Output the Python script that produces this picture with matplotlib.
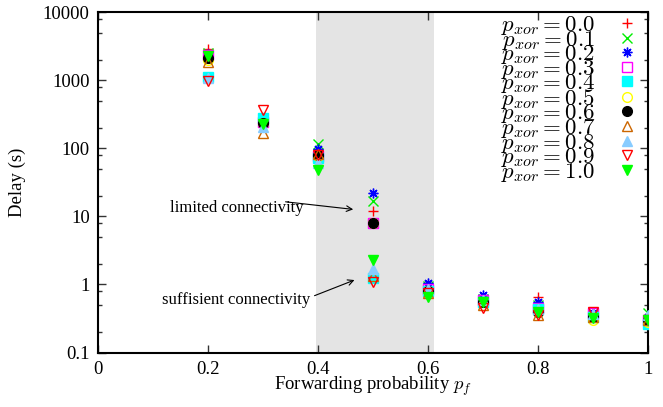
import matplotlib
matplotlib.use('Agg')
import matplotlib.pyplot as plt
from matplotlib.ticker import LogLocator, FixedLocator, NullFormatter

plt.rcParams['font.family'] = ['Liberation Serif', 'DejaVu Serif']
plt.rcParams['mathtext.fontset'] = 'cm'

pf = [0.2, 0.3, 0.4, 0.5, 0.6, 0.7, 0.8, 0.9, 1.0]
pxor = ['0.0', '0.1', '0.2', '0.3', '0.4', '0.5', '0.6', '0.7', '0.8', '0.9', '1.0']

# delay (s) per p_xor, one value per forwarding probability
d00 = [2900, 245, 86, 12.0, 0.90, 0.60, 0.65, 0.38, 0.32]
d01 = [2500, 240, 116, 17.0, 0.95, 0.62, 0.50, 0.36, 0.38]
d02 = [2400, 240, 97, 22.0, 1.05, 0.70, 0.55, 0.38, 0.33]
d03 = [2300, 245, 78, 8.0, 0.85, 0.60, 0.45, 0.38, 0.30]
d04 = [1120, 275, 72, 1.25, 0.80, 0.55, 0.43, 0.33, 0.26]
d05 = [2000, 235, 76, 8.0, 0.80, 0.55, 0.40, 0.30, 0.28]
d06 = [2130, 235, 80, 8.0, 0.80, 0.55, 0.40, 0.33, 0.30]
d07 = [1850, 168, 82, 1.35, 0.75, 0.50, 0.35, 0.33, 0.30]
d08 = [1070, 205, 61, 1.70, 0.85, 0.60, 0.43, 0.37, 0.36]
d09 = [970, 364, 80, 1.10, 0.75, 0.45, 0.36, 0.40, 0.30]
d10 = [2250, 228, 48, 2.30, 0.65, 0.55, 0.40, 0.32, 0.30]

series = [d00, d01, d02, d03, d04, d05, d06, d07, d08, d09, d10]
colors = ['#ff0000', '#00ee00', '#0000ff', '#ff00ff', '#00ffff', '#ffff00',
          '#000000', '#cc6600', '#88ccff', '#ff0000', '#00ff00']
markers = ['+', 'x', (8, 2, 0), 's', 's', 'o', 'o', '^', '^', 'v', 'v']
filled = [True, True, True, False, True, False, True, False, True, False, True]

fig = plt.figure(figsize=(6.63, 4.07), dpi=100)
ax = fig.add_axes([0.1478, 0.1339, 0.8296, 0.8366])

ax.axvspan(0.396, 0.61, color='#e4e4e4', lw=0, zorder=0)

for lab, d, c, m, f in zip(pxor, series, colors, markers, filled):
    if f:
        ax.plot(pf, d, ls='none', marker=m, ms=7, color=c, mec=c, mew=1.0,
                label=r'$p_{xor} = %s$' % lab, zorder=3)
    else:
        ax.plot(pf, d, ls='none', marker=m, ms=7, mfc='none', mec=c, mew=1.0,
                label=r'$p_{xor} = %s$' % lab, zorder=3)

ax.set_yscale('log')
ax.set_xlim(0, 1)
ax.set_ylim(0.1, 10000)
ax.xaxis.set_major_locator(FixedLocator([0, 0.2, 0.4, 0.6, 0.8, 1.0]))
ax.set_xticklabels(['0', '0.2', '0.4', '0.6', '0.8', '1'])
ax.yaxis.set_major_locator(FixedLocator([0.1, 1, 10, 100, 1000, 10000]))
ax.set_yticklabels(['0.1', '1', '10', '100', '1000', '10000'])
ax.yaxis.set_minor_locator(LogLocator(base=10, subs=[2, 5, 8]))
ax.yaxis.set_minor_formatter(NullFormatter())

ax.tick_params(which='both', direction='in', top=True, right=True,
               labelsize=13.5, width=1.0, color='#333333')
ax.tick_params(which='major', length=6, pad=6)
ax.tick_params(which='minor', length=3)
for s in ax.spines.values():
    s.set_linewidth(1.5)

ax.set_xlabel(r'Forwarding probability $p_f$', fontsize=13.5, labelpad=-2)
ax.set_ylabel('Delay (s)', fontsize=13.5, labelpad=12)

# annotations: text and arrows placed separately (gnuplot style)
ax.text(0.373, 13.2, 'limited connectivity', fontsize=12, ha='right', va='center')
ax.annotate('', xy=(0.469, 12.5), xytext=(0.336, 16.5),
            arrowprops=dict(arrowstyle='->', color='black', lw=0.8))
ax.text(0.385, 0.59, 'suffisient connectivity', fontsize=12, ha='right', va='center')
ax.annotate('', xy=(0.471, 1.2), xytext=(0.389, 0.66),
            arrowprops=dict(arrowstyle='->', color='black', lw=0.8))

ax.legend(loc='upper right', markerfirst=False, frameon=False, fontsize=16.5,
          labelspacing=-0.37, handlelength=1.0, handletextpad=0.9,
          borderaxespad=0.0, bbox_to_anchor=(1.0, 1.02))

fig.savefig('out.png', dpi=100)
